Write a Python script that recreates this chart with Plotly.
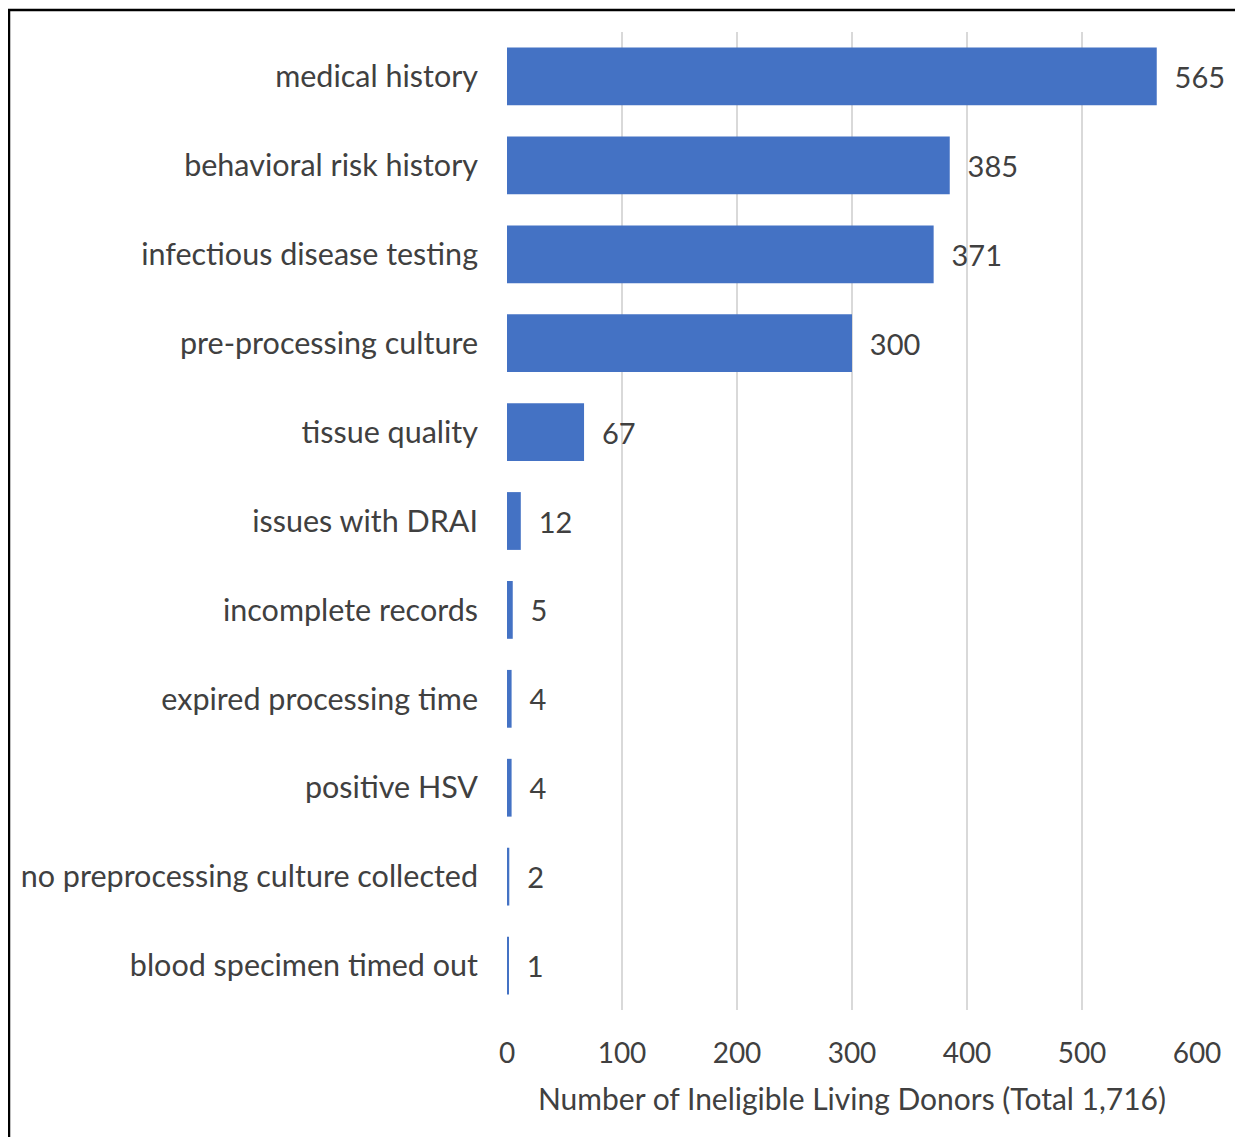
import plotly.graph_objects as go

categories = ["medical history", "behavioral risk history", "infectious disease testing",
              "pre-processing culture", "tissue quality", "issues with DRAI",
              "incomplete records", "expired processing time", "positive HSV",
              "no preprocessing culture collected", "blood specimen timed out"]
values = [565, 385, 371, 300, 67, 12, 5, 4, 4, 2, 1]
x_ticks = [0, 100, 200, 300, 400, 500, 600]
x_title = "Number of Ineligible Living Donors (Total 1,716)"

# page body has an 8px margin; compensate so the picture lines up
OFF = 8
W, H = 1243 - OFF, 1137 - OFF
L, R, T, B = 507 - OFF, 46, 32 - OFF, 127
pw, ph = W - L - R, H - T - B

FONT = "Lato"
TXT = "#404040"
NB = "\u00a0"

fig = go.Figure(go.Bar(
    y=categories, x=values, orientation="h",
    marker=dict(color="#4472C4", line=dict(width=0)),
    text=[NB * 2 + str(v) for v in values],
    textposition="outside", cliponaxis=False,
    textfont=dict(family=FONT, size=29, color=TXT),
    width=0.65,
))

def px2paper_x(px):
    return (px - OFF - L) / pw

def px2paper_y(py):
    return (H - B - (py - OFF)) / ph

fig.update_layout(
    width=W, height=H,
    margin=dict(l=L, r=R, t=T, b=B, autoexpand=False),
    paper_bgcolor="white", plot_bgcolor="white",
    font=dict(family=FONT, color=TXT),
    showlegend=False,
    xaxis=dict(range=[0, 600], tickvals=x_ticks, showgrid=True,
               gridcolor="#d9d9d9", gridwidth=1.5, zeroline=False,
               showline=False, ticks="",
               tickfont=dict(family=FONT, size=28, color=TXT),
               ticklabelstandoff=24,
               title=dict(text=x_title, font=dict(family=FONT, size=30, color=TXT),
                          standoff=20)),
    yaxis=dict(categoryorder="array", categoryarray=categories, autorange="reversed",
               showgrid=False, zeroline=False, showline=False, ticks="",
               tickfont=dict(family=FONT, size=30.5, color=TXT),
               ticklabelstandoff=28),
    shapes=[
        dict(type="line", xref="paper", yref="paper",
             x0=px2paper_x(9), x1=px2paper_x(9), y0=px2paper_y(9), y1=px2paper_y(1137 + 5),
             line=dict(color="black", width=2.5)),
        dict(type="line", xref="paper", yref="paper",
             x0=px2paper_x(8), x1=px2paper_x(1243 + 5), y0=px2paper_y(10), y1=px2paper_y(10),
             line=dict(color="black", width=2.5)),
    ],
)

fig.write_html("out.html")
